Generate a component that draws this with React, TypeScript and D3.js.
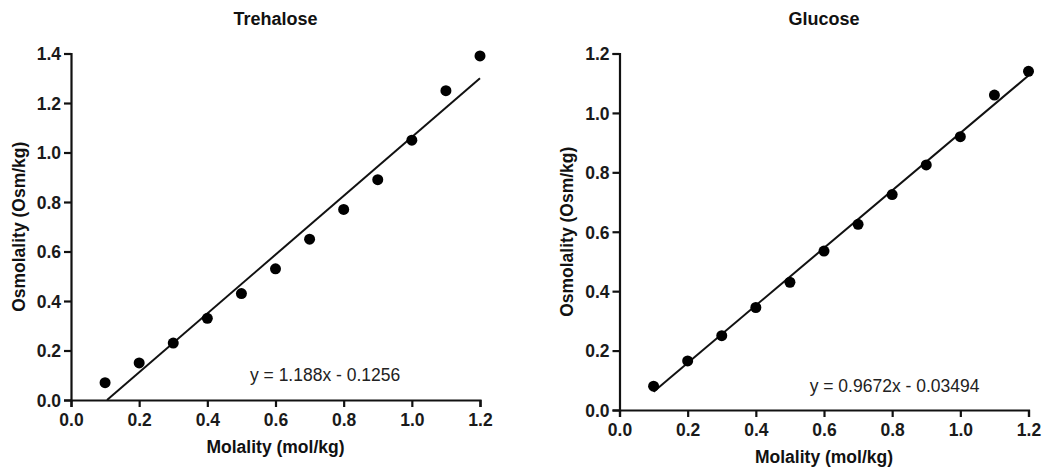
import React, { useEffect, useRef } from "react";
import * as d3 from "d3";

// ---- Data ----
const molality = [0.1, 0.2, 0.3, 0.4, 0.5, 0.6, 0.7, 0.8, 0.9, 1.0, 1.1, 1.2];
const trehaloseOsm = [0.07, 0.15, 0.23, 0.33, 0.43, 0.53, 0.65, 0.77, 0.89, 1.05, 1.25, 1.39];
const glucoseOsm = [0.08, 0.165, 0.25, 0.345, 0.43, 0.535, 0.625, 0.725, 0.825, 0.92, 1.06, 1.14];
const xTicks = [0, 0.2, 0.4, 0.6, 0.8, 1.0, 1.2];
const trehaloseYTicks = [0, 0.2, 0.4, 0.6, 0.8, 1.0, 1.2, 1.4];
const glucoseYTicks = [0, 0.2, 0.4, 0.6, 0.8, 1.0, 1.2];
const trehaloseFit = [1.188, -0.1256]; // slope, intercept
const glucoseFit = [0.9672, -0.03494];
const titles = ["Trehalose", "Glucose"];
const equations = ["y = 1.188x - 0.1256", "y = 0.9672x - 0.03494"];
const xTitle = "Molality (mol/kg)";
const yTitle = "Osmolality (Osm/kg)";

const FONT = "'Liberation Sans', Arial, Helvetica, sans-serif";
const INK = "#111";

type Panel = {
  title: string;
  eq: string;
  ys: number[];
  yTicks: number[];
  fit: number[];
  xr: [number, number];
  yr: [number, number];
  yTitleX: number;
  xTitleY: number;
  eqAt: [number, number];
};

const panels: Panel[] = [
  {
    title: titles[0], eq: equations[0], ys: trehaloseOsm, yTicks: trehaloseYTicks, fit: trehaloseFit,
    xr: [71, 480], yr: [400, 53.5], yTitleX: 19, xTitleY: 453, eqAt: [0.525, 0.076],
  },
  {
    title: titles[1], eq: equations[1], ys: glucoseOsm, yTicks: glucoseYTicks, fit: glucoseFit,
    xr: [619.5, 1028.5], yr: [410, 53.5], yTitleX: 567, xTitleY: 463, eqAt: [0.558, 0.062],
  },
];

export default function App() {
  const ref = useRef<SVGSVGElement | null>(null);

  useEffect(() => {
    const svg = d3.select(ref.current);
    svg.selectAll("*").remove();

    panels.forEach((p) => {
      const yMax = p.yTicks[p.yTicks.length - 1];
      const x = d3.scaleLinear().domain([0, 1.2]).range(p.xr);
      const y = d3.scaleLinear().domain([0, yMax]).range(p.yr);
      const g = svg.append("g");

      // title
      g.append("text")
        .attr("x", (p.xr[0] + p.xr[1]) / 2)
        .attr("y", 25)
        .attr("text-anchor", "middle")
        .attr("font-family", FONT)
        .attr("font-weight", "bold")
        .attr("font-size", 18)
        .attr("fill", INK)
        .text(p.title);

      // x axis
      const xa = g.append("g")
        .attr("transform", `translate(0,${p.yr[0]})`)
        .call(d3.axisBottom(x).tickValues(xTicks).tickFormat(d3.format(".1f")).tickSizeOuter(0).tickSize(7).tickPadding(7));
      // y axis
      const ya = g.append("g")
        .attr("transform", `translate(${p.xr[0]},0)`)
        .call(d3.axisLeft(y).tickValues(p.yTicks).tickFormat(d3.format(".1f")).tickSizeOuter(0).tickSize(7).tickPadding(3));

      [xa, ya].forEach((a) => {
        a.attr("font-family", FONT).attr("font-size", 17.5).attr("font-weight", "bold");
        a.select(".domain").attr("stroke", INK).attr("stroke-width", 2.2);
        a.selectAll(".tick line").attr("stroke", INK).attr("stroke-width", 2.2);
        a.selectAll(".tick text").attr("fill", "#1a1a1a");
      });
      ya.selectAll(".tick text").attr("dy", "0.36em");

      // axis titles
      g.append("text")
        .attr("x", (p.xr[0] + p.xr[1]) / 2)
        .attr("y", p.xTitleY)
        .attr("text-anchor", "middle")
        .attr("font-family", FONT)
        .attr("font-weight", "bold")
        .attr("font-size", 17.5)
        .attr("fill", INK)
        .text(xTitle);
      g.append("text")
        .attr("transform", `translate(${p.yTitleX},${(p.yr[0] + p.yr[1]) / 2}) rotate(-90)`)
        .attr("text-anchor", "middle")
        .attr("dy", "0.36em")
        .attr("font-family", FONT)
        .attr("font-weight", "bold")
        .attr("font-size", 17.5)
        .attr("fill", INK)
        .text(yTitle);

      // fit line
      const [m, b] = p.fit;
      const x0 = Math.max(molality[0], -b / m);
      const x1 = molality[molality.length - 1];
      const line = d3.line<number>().x((d) => x(d)).y((d) => y(m * d + b));
      g.append("path")
        .datum([x0, x1])
        .attr("d", line)
        .attr("fill", "none")
        .attr("stroke", INK)
        .attr("stroke-width", 2);

      // points
      g.append("g")
        .selectAll("circle")
        .data(molality.map((d, i) => [d, p.ys[i]]))
        .join("circle")
        .attr("cx", (d) => x(d[0]))
        .attr("cy", (d) => y(d[1]))
        .attr("r", 5.5)
        .attr("fill", "#000");

      // equation
      g.append("text")
        .attr("x", x(p.eqAt[0]))
        .attr("y", y(p.eqAt[1]))
        .attr("font-family", FONT)
        .attr("font-size", 17.5)
        .attr("fill", "#222")
        .text(p.eq);
    });
  }, []);

  return (
    <svg
      ref={ref}
      width={1047}
      height={470}
      style={{ position: "absolute", left: 0, top: 0, background: "#fff", display: "block" }}
    />
  );
}
